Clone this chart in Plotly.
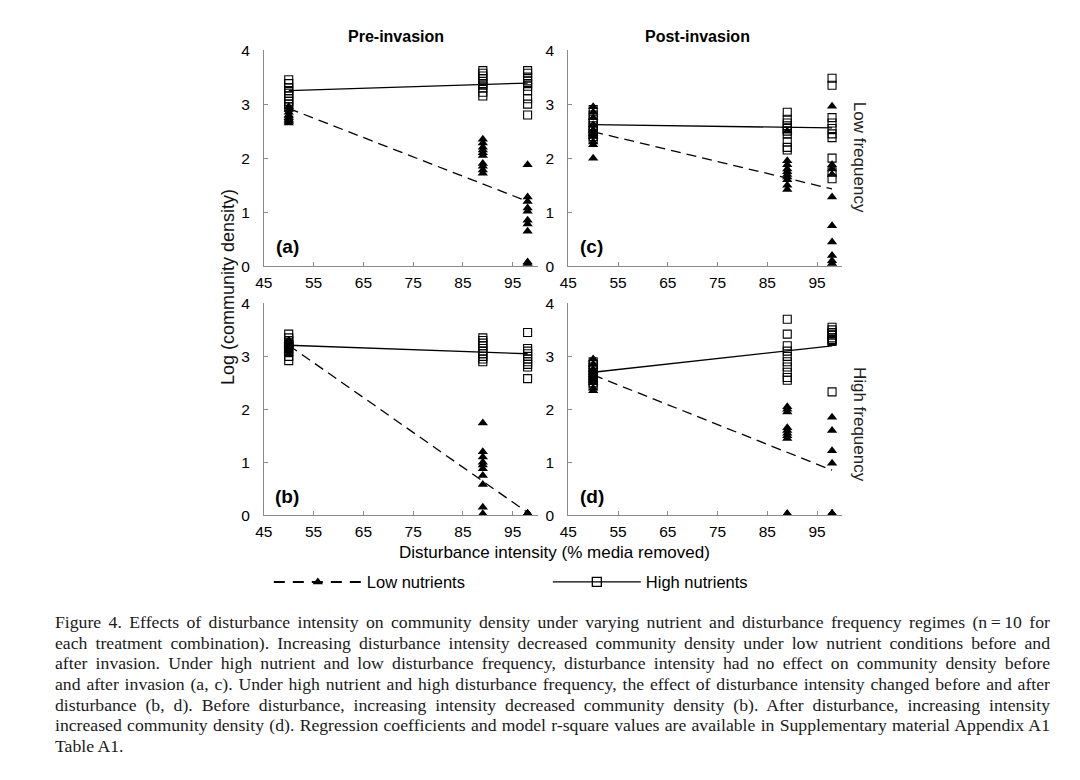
import plotly.graph_objects as go

# ---------------- data ----------------
x_levels = [50, 89, 98]
x_fit = [50, 98]

# Panel (a) Pre-invasion, low frequency
a_high = [[3.45, 3.38, 3.30, 3.25, 3.20, 3.15, 3.10, 3.05, 3.00, 2.95],
          [3.62, 3.57, 3.52, 3.47, 3.42, 3.38, 3.35, 3.30, 3.22, 3.15],
          [3.62, 3.57, 3.50, 3.43, 3.38, 3.33, 3.25, 3.10, 3.00, 2.80]]
a_low = [[2.95, 2.90, 2.85, 2.80, 2.78, 2.75, 2.72, 2.70, 2.68, 2.65],
         [2.35, 2.28, 2.20, 2.15, 2.10, 2.05, 1.90, 1.85, 1.78, 1.72],
         [1.88, 1.28, 1.20, 1.08, 1.02, 0.85, 0.78, 0.65, 0.08, 0.05]]
a_fit_high = [3.25, 3.39]
a_fit_low = [2.92, 1.20]

# Panel (c) Post-invasion, low frequency
c_high = [[2.90, 2.80, 2.72, 2.66, 2.60, 2.55, 2.50, 2.45, 2.40, 2.35],
          [2.85, 2.72, 2.65, 2.60, 2.55, 2.50, 2.45, 2.30, 2.20, 2.15],
          [3.48, 3.35, 2.75, 2.65, 2.55, 2.45, 2.38, 2.00, 1.75, 1.62]]
c_low = [[2.95, 2.85, 2.75, 2.62, 2.52, 2.45, 2.40, 2.30, 2.25, 2.00],
         [2.50, 1.95, 1.88, 1.80, 1.75, 1.70, 1.65, 1.60, 1.50, 1.42],
         [2.96, 1.88, 1.80, 1.70, 1.28, 0.75, 0.45, 0.20, 0.10, 0.05]]
c_fit_high = [2.62, 2.56]
c_fit_low = [2.49, 1.43]

# Panel (b) Pre-invasion, high frequency
b_high = [[3.42, 3.35, 3.30, 3.25, 3.22, 3.20, 3.18, 3.10, 3.00, 2.92],
          [3.35, 3.30, 3.25, 3.20, 3.15, 3.10, 3.05, 3.00, 2.95, 2.90],
          [3.45, 3.15, 3.10, 3.05, 3.00, 2.95, 2.90, 2.85, 2.80, 2.58]]
b_low = [[3.30, 3.27, 3.25, 3.22, 3.20, 3.18, 3.15, 3.12, 3.10, 3.05],
         [1.74, 1.20, 1.10, 1.00, 0.95, 0.88, 0.75, 0.58, 0.15, 0.03],
         [0.03, 0.03, 0.03, 0.03, 0.03, 0.03, 0.03, 0.03, 0.03, 0.03]]
b_fit_high = [3.21, 3.05]
b_fit_low = [3.21, 0.05]

# Panel (d) Post-invasion, high frequency
d_high = [[2.90, 2.85, 2.80, 2.75, 2.70, 2.65, 2.60, 2.55, 2.50, 2.45],
          [3.70, 3.42, 3.20, 3.10, 3.00, 2.90, 2.80, 2.70, 2.60, 2.55],
          [3.55, 3.50, 3.45, 3.42, 3.40, 3.35, 3.32, 3.30, 3.28, 2.33]]
d_low = [[2.95, 2.85, 2.75, 2.70, 2.65, 2.60, 2.55, 2.50, 2.40, 2.35],
         [2.05, 2.00, 1.95, 1.65, 1.60, 1.55, 1.50, 1.45, 0.03, 0.03],
         [1.85, 1.60, 1.22, 0.98, 0.03, 0.03, 0.03, 0.03, 0.03, 0.03]]
d_fit_high = [2.70, 3.20]
d_fit_low = [2.65, 0.85]

x_ticks = [45, 55, 65, 75, 85, 95]
y_ticks = [0, 1, 2, 3, 4]
panel_labels = ["(a)", "(c)", "(b)", "(d)"]
col_titles = ["Pre-invasion", "Post-invasion"]
row_titles = ["Low frequency", "High frequency"]
legend_names = ["Low nutrients", "High nutrients"]
x_title = "Disturbance intensity (% media removed)"
y_title = "Log (community density)"

caption_lines = [
    "Figure 4. Effects of disturbance intensity on community density under varying nutrient and disturbance frequency regimes (n\u2009=\u200910 for",
    "each treatment combination). Increasing disturbance intensity decreased community density under low nutrient conditions before and",
    "after invasion. Under high nutrient and low disturbance frequency, disturbance intensity had no effect on community density before",
    "and after invasion (a, c). Under high nutrient and high disturbance frequency, the effect of disturbance intensity changed before and after",
    "disturbance (b, d). Before disturbance, increasing intensity decreased community density (b). After disturbance, increasing intensity",
    "increased community density (d). Regression coefficients and model r-square values are available in Supplementary material Appendix A1",
    "Table A1.",
]

# ---------------- layout geometry ----------------
W, H = 1080, 780
def px_x(p):
    return p / W
def px_y(p):
    return 1 - p / H

col_px = [(257, 533), (564, 840)]
row_px = [(42, 263), (301, 517.5)]

panels = [
    (a_high, a_low, a_fit_high, a_fit_low, 0, 0),
    (c_high, c_low, c_fit_high, c_fit_low, 0, 1),
    (b_high, b_low, b_fit_high, b_fit_low, 1, 0),
    (d_high, d_low, d_fit_high, d_fit_low, 1, 1),
]

FONT = "Liberation Sans, Arial, Helvetica, sans-serif"
AXCOL = "#8a8a8a"

fig = go.Figure()
layout_axes = {}
annotations = []

for i, (hi, lo, fh, fl, r, c) in enumerate(panels):
    n = i + 1
    xa = "x" if n == 1 else f"x{n}"
    ya = "y" if n == 1 else f"y{n}"
    hx, hy, lx, ly = [], [], [], []
    for k, xv in enumerate(x_levels):
        hx += [xv] * len(hi[k]); hy += hi[k]
        lx += [xv] * len(lo[k]); ly += lo[k]
    fig.add_trace(go.Scatter(x=hx, y=hy, mode="markers", xaxis=xa, yaxis=ya,
                             marker=dict(symbol="square-open", size=8, color="black",
                                         line=dict(width=1.1, color="black")),
                             showlegend=False, cliponaxis=False, hoverinfo="skip"))
    fig.add_trace(go.Scatter(x=lx, y=ly, mode="markers", xaxis=xa, yaxis=ya,
                             marker=dict(symbol="triangle-up", size=9, color="black"),
                             showlegend=False, cliponaxis=False, hoverinfo="skip"))
    fig.add_trace(go.Scatter(x=x_fit, y=fh, mode="lines", xaxis=xa, yaxis=ya,
                             line=dict(color="black", width=1.3),
                             showlegend=False, hoverinfo="skip"))
    fig.add_trace(go.Scatter(x=x_fit, y=fl, mode="lines", xaxis=xa, yaxis=ya,
                             line=dict(color="black", width=1.3, dash="10px,6px"),
                             showlegend=False, hoverinfo="skip"))

    x0, x1 = col_px[c]
    y0, y1 = row_px[r]
    axkey = "xaxis" if n == 1 else f"xaxis{n}"
    aykey = "yaxis" if n == 1 else f"yaxis{n}"
    layout_axes[axkey] = dict(domain=[px_x(x0), px_x(x1)], range=[45, 100], anchor=ya,
                              tickvals=x_ticks, ticks="inside", ticklen=4, tickcolor=AXCOL,
                              showline=True, linecolor=AXCOL, linewidth=1,
                              showgrid=False, zeroline=False, ticklabelstandoff=2,
                              tickfont=dict(size=15.5, color="black", family=FONT))
    layout_axes[aykey] = dict(domain=[px_y(y1), px_y(y0)], range=[0, 4], anchor=xa,
                              tickvals=y_ticks, ticks="inside", ticklen=4, tickcolor=AXCOL,
                              showline=True, linecolor=AXCOL, linewidth=1,
                              showgrid=False, zeroline=False, ticklabelstandoff=10,
                              tickfont=dict(size=15.5, color="black", family=FONT))
    annotations.append(dict(text=f"<b>{panel_labels[i]}</b>", xref=f"{xa} domain", yref=f"{ya} domain",
                            x=0.085, y=0.09, xanchor="center", yanchor="middle", showarrow=False,
                            font=dict(size=19, color="black", family=FONT)))

for c, (t, cx) in enumerate(zip(col_titles, [390, 694])):
    annotations.append(dict(text=f"<b>{t}</b>", xref="paper", yref="paper",
                            x=px_x(cx), y=px_y(28), xanchor="center", yanchor="middle",
                            showarrow=False, font=dict(size=16, color="black", family=FONT)))
for r, (t, cy) in enumerate(zip(row_titles, [152, 425])):
    annotations.append(dict(text=t, xref="paper", yref="paper", textangle=90,
                            x=px_x(857), y=px_y(cy), xanchor="center", yanchor="middle",
                            showarrow=False, font=dict(size=17, color="#222", family=FONT)))
annotations.append(dict(text=x_title, xref="paper", yref="paper", x=px_x(550), y=px_y(556),
                        xanchor="center", yanchor="middle", showarrow=False,
                        font=dict(size=17, color="black", family=FONT)))
annotations.append(dict(text=y_title, xref="paper", yref="paper", x=px_x(221), y=px_y(284),
                        xanchor="center", yanchor="middle", textangle=-90, showarrow=False,
                        font=dict(size=18, color="#111", family=FONT)))
for k, line in enumerate(caption_lines):
    annotations.append(dict(text=line, xref="paper", yref="paper", x=px_x(44), y=px_y(627 + 21.0 * k),
                            xanchor="left", yanchor="middle", align="left", showarrow=False,
                            font=dict(size=17.7, color="#1a1a1a",
                                      family="Liberation Serif, Times New Roman, serif")))

# legend entries
fig.add_trace(go.Scatter(x=[None], y=[None], mode="lines+markers", name=legend_names[0],
                         line=dict(color="black", width=2, dash="11px,8px"),
                         marker=dict(symbol="triangle-up", size=9, color="black")))
fig.add_trace(go.Scatter(x=[None], y=[None], mode="lines+markers", name=legend_names[1],
                         line=dict(color="black", width=1.2),
                         marker=dict(symbol="square-open", size=9, color="black",
                                     line=dict(width=1.3, color="black"))))

fig.update_layout(
    width=W, height=H,
    margin=dict(l=0, r=0, t=0, b=0),
    paper_bgcolor="white", plot_bgcolor="white",
    font=dict(family=FONT, color="black"),
    annotations=annotations,
    showlegend=True,
    legend=dict(orientation="h", x=px_x(262), y=px_y(586), xanchor="left", yanchor="middle",
                itemwidth=88, entrywidth=176, entrywidthmode="pixels",
                font=dict(size=16.5, color="black", family=FONT), bgcolor="rgba(0,0,0,0)",
                tracegroupgap=0),
    **layout_axes,
)

# page styling: no body margin; justify the long caption lines (word spacing only)
post = """
document.body.style.margin='0';
document.body.style.padding='0';
var gd = document.getElementById('{plot_id}');
var els = gd.querySelectorAll('.annotation-text');
els.forEach(function(el){
  var t = el.textContent;
  if (t.length > 80) {
    var w = el.getComputedTextLength();
    var n = (t.match(/ /g) || []).length;
    var target = 995;
    if (n > 0) { el.style.wordSpacing = ((target - w) / n) + 'px'; }
  }
});
"""

fig.write_html("out.html", config={"displayModeBar": False}, post_script=post)
